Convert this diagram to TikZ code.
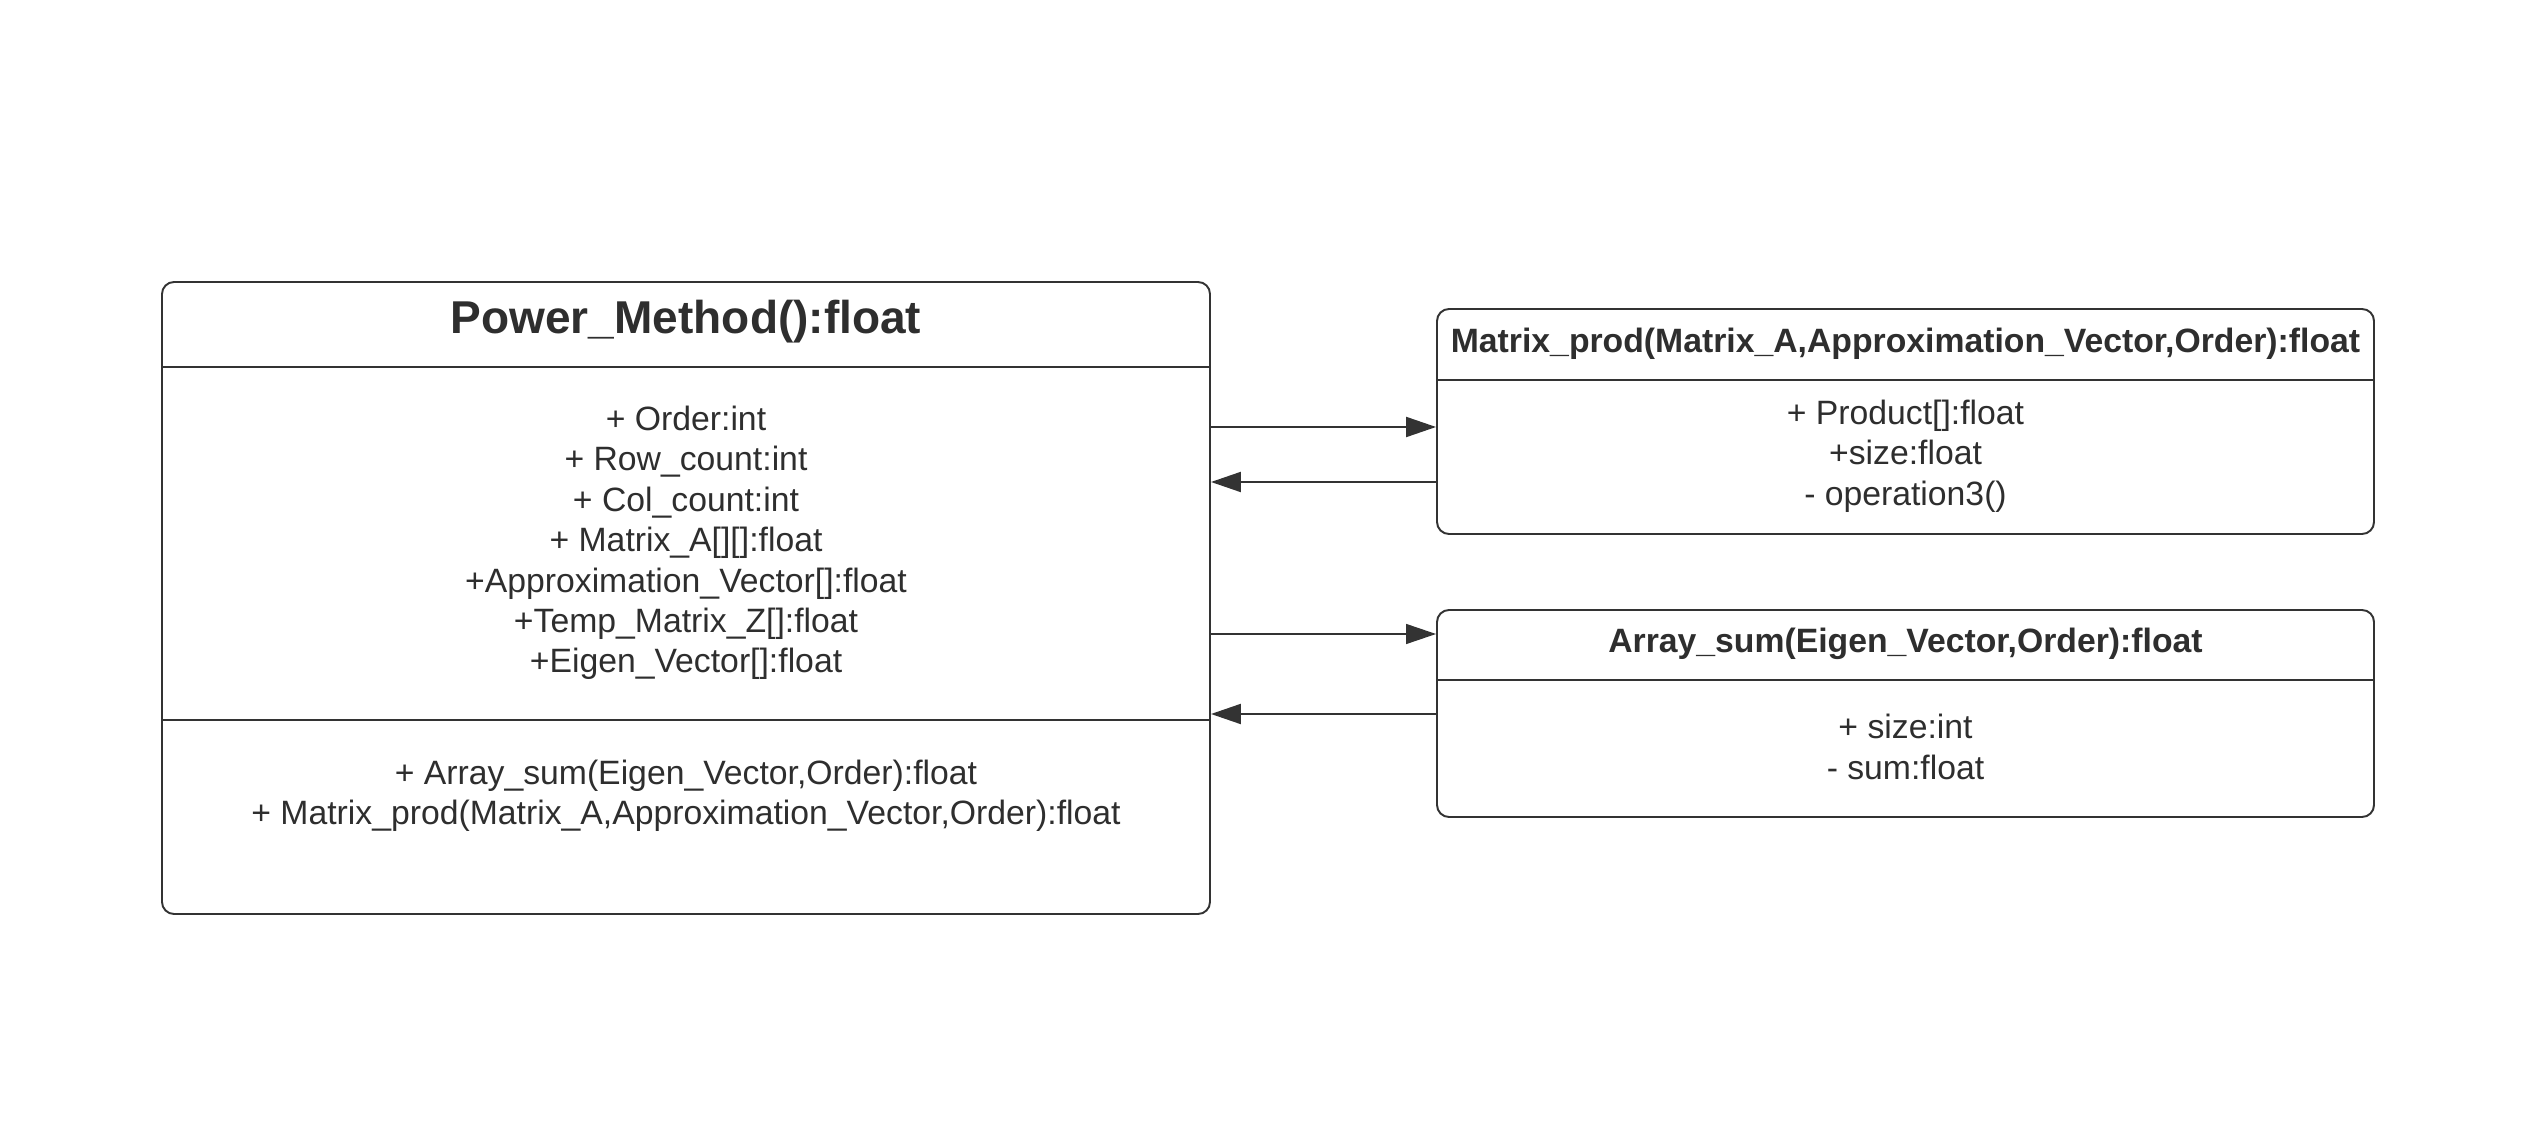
\documentclass[tikz,border=0pt]{standalone}
\usepackage{fontspec}
\setmainfont{Liberation Sans}
\usetikzlibrary{arrows.meta}
\definecolor{umlLine}{HTML}{333333}
\definecolor{umlText}{HTML}{2E2E2E}

\begin{document}
\begin{tikzpicture}[
    x=1cm,y=1cm,>=Latex,
    every node/.style={font=\fontsize{9.6}{11.5}\selectfont,align=center,text=umlText},
    umlclass/.style={draw=umlLine,line width=0.55pt,rounded corners=1.2mm,inner sep=0pt},
    bigtitle/.style={font=\fontsize{13.1}{15}\selectfont\bfseries},
    smalltitle/.style={font=\fontsize{9.6}{11.5}\selectfont\bfseries},
    divider/.style={draw=umlLine,line width=0.55pt},
    flow/.style={-{Triangle[length=3mm,width=2mm]},draw=umlLine,line width=0.6pt}
]
\useasboundingbox (0,0) rectangle (25.37,11.34);
% class boxes
\node[umlclass,minimum width=10.48cm,minimum height=6.32cm] (power) at (6.86,5.36) {};
\node[umlclass,minimum width=9.37cm,minimum height=2.25cm] (mprod) at (19.055,7.125) {};
\node[umlclass,minimum width=9.37cm,minimum height=2.07cm] (asum) at (19.055,4.205) {};
% compartments
\draw[divider] (power.west |- 0,7.67) -- (power.east |- 0,7.67);
\draw[divider] (power.west |- 0,4.14) -- (power.east |- 0,4.14);
\draw[divider] (mprod.west |- 0,7.54) -- (mprod.east |- 0,7.54);
\draw[divider] (asum.west |- 0,4.54) -- (asum.east |- 0,4.54);
% texts
\node[bigtitle] (powerName) at (6.86,8.12) {Power\_Method():float};
\node (powerAttr) at (6.86,5.91) {+ Order:int\\+ Row\_count:int\\+ Col\_count:int\\+ Matrix\_A[][]:float\\+Approximation\_Vector[]:float\\+Temp\_Matrix\_Z[]:float\\+Eigen\_Vector[]:float};
\node (powerOps) at (6.86,3.38) {+ Array\_sum(Eigen\_Vector,Order):float\\+ Matrix\_prod(Matrix\_A,Approximation\_Vector,Order):float};
\node[smalltitle] (mprodName) at (19.055,7.90) {Matrix\_prod(Matrix\_A,Approximation\_Vector,Order):float};
\node (mprodAttr) at (19.055,6.78) {+ Product[]:float\\+size:float\\- operation3()};
\node[smalltitle] (asumName) at (19.055,4.90) {Array\_sum(Eigen\_Vector,Order):float};
\node (asumAttr) at (19.055,3.87) {+ size:int\\- sum:float};
% calls and returns
\draw[flow] (power.east |- 0,7.07) -- (mprod.west |- 0,7.07);
\draw[flow] (mprod.west |- 0,6.52) -- (power.east |- 0,6.52);
\draw[flow,line width=0.4pt] (power.east |- 0,5.00) -- (asum.west |- 0,5.00);
\draw[flow] (asum.west |- 0,4.20) -- (power.east |- 0,4.20);
\end{tikzpicture}
\end{document}
